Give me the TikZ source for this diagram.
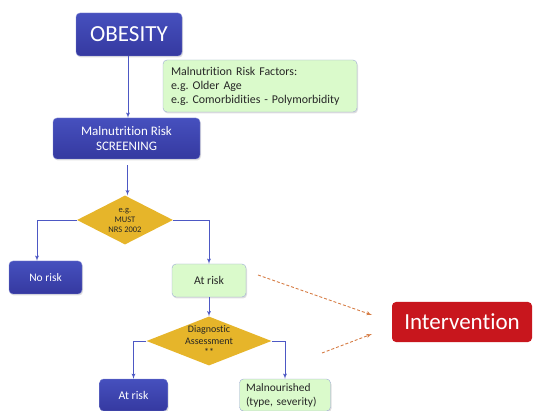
\documentclass[tikz,border=0pt]{standalone}
\usepackage{fontspec}
\setmainfont{Carlito}[Ligatures={NoCommon}]
\usetikzlibrary{shapes,arrows,calc,shadows}
\definecolor{boxblue}{HTML}{4650BE}
\definecolor{boxbluedark}{HTML}{3539A0}
\definecolor{boxgreen}{HTML}{DAFACB}
\definecolor{linegreen}{HTML}{9CA8D6}
\definecolor{lineblue}{HTML}{4D58C4}
\definecolor{gold}{HTML}{E6B52A}
\definecolor{redbox}{HTML}{C8161D}
\definecolor{dashorange}{HTML}{D67D45}
\frenchspacing

\begin{document}
\begin{tikzpicture}[x=1pt, y=-1pt, >=latex',
blue node/.style={rectangle, rounded corners=4pt, top color=boxblue, bottom color=boxbluedark, draw=boxblue!70, text=white, align=center, inner sep=0pt, drop shadow={opacity=0.25, shadow xshift=1pt, shadow yshift=-1.5pt}},
green node/.style={rectangle, rounded corners=4pt, fill=boxgreen, draw=linegreen, text=black!85, align=left, inner sep=0pt, drop shadow={opacity=0.25, shadow xshift=1pt, shadow yshift=-1.5pt}},
choice/.style={diamond, fill=gold, inner sep=0pt},
flow/.style={->, lineblue, line width=0.8pt},
hint/.style={->, dashorange, line width=0.9pt, dash pattern=on 3pt off 2pt}]
\useasboundingbox (0,0) rectangle (535,411);

\node[blue node, minimum width=106pt, minimum height=43pt, font=\fontsize{23}{26}\selectfont] (ob) at (129,34.5) {OBESITY};
\node[green node, minimum width=194pt, minimum height=52pt, text width=178pt, font=\fontsize{11.9}{14}\selectfont] (rf) at (260,86) {Malnutrition Risk Factors:\\e.g. Older Age\\e.g. Comorbidities - Polymorbidity};
\node[blue node, minimum width=147pt, minimum height=41pt, font=\fontsize{13}{15.5}\selectfont] (scr) at (126.5,138.5) {Malnutrition Risk\\SCREENING};
\node[choice, minimum width=96pt, minimum height=49pt, label={[align=center, text=black!85, font=\fontsize{8.5}{10}\selectfont]center:e.g.\\MUST\\NRS 2002}] (d1) at (125,220) {};
\node[blue node, minimum width=73pt, minimum height=33pt, font=\fontsize{11.5}{13}\selectfont] (nr) at (45.5,277.5) {No risk};
\node[green node, minimum width=74pt, minimum height=33pt, align=center, font=\fontsize{11.8}{13}\selectfont] (ar) at (209,280.5) {At risk};
\node[choice, minimum width=125pt, minimum height=49pt, label={[align=center, text=black!85, font=\fontsize{10}{11.5}\selectfont]center:Diagnostic\\Assessment\\**}] (d2) at (209,341) {};
\node[blue node, minimum width=68pt, minimum height=32pt, font=\fontsize{11.8}{13}\selectfont] (ar2) at (133.5,395) {At risk};
\node[green node, minimum width=91pt, minimum height=32pt, text width=78pt, font=\fontsize{11.4}{14}\selectfont] (mal) at (285,395) {Malnourished\\(type, severity)};
\node[rectangle, rounded corners=4pt, fill=redbox, text=white, minimum width=140pt, minimum height=40pt, inner sep=0pt, font=\fontsize{23}{26}\selectfont] (int) at (462,322) {Intervention};

\coordinate (obout) at ($(ob.south)+(-1,0)$);
\coordinate (scrout) at ($(scr.south)+(1,6)$);
\coordinate (nrin) at ($(nr.north)+(-8.5,0)$);
\coordinate (h1) at (258,275);
\coordinate (h1e) at (372,315);
\coordinate (h2) at (322,353);
\coordinate (h2e) at (372,334);

\draw[flow] (obout) -- (obout |- scr.north);
\draw[flow] (scrout) -- (scrout |- d1.north);
\draw[flow] (d1.west) -| (nrin);
\draw[flow] (d1.east) -| (ar.north);
\draw[flow] (ar.south) -- (d2.north);
\draw[flow] (d2.west) -| (ar2.north);
\draw[flow] (d2.east) -| (mal.north);
\draw[hint] (h1) -- (h1e);
\draw[hint] (h2) -- (h2e);
\end{tikzpicture}
\end{document}
